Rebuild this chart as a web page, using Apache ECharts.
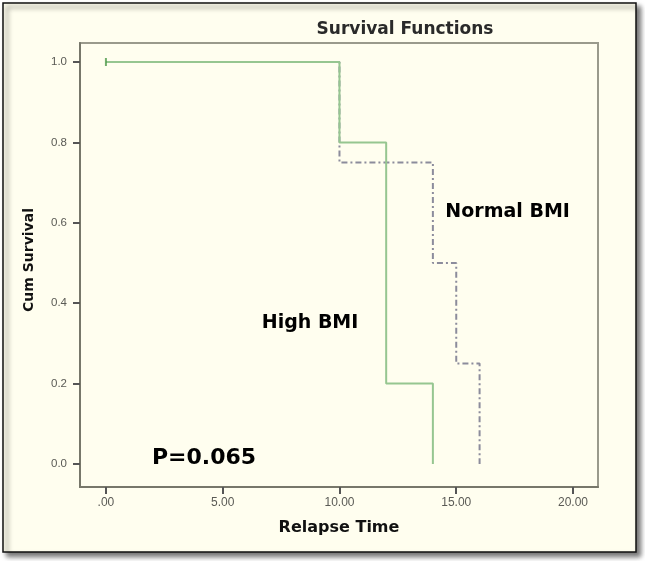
<!DOCTYPE html>
<html>
<head>
<meta charset="utf-8">
<script src="https://cdn.jsdelivr.net/npm/echarts@6/dist/echarts.min.js"></script>
<style>
html,body{margin:0;padding:0;background:#ffffff;}
#chart{width:645px;height:561px;}
</style>
</head>
<body>
<div id="chart"></div>
<script>
// Data
const highBMI = [[0, 1.0], [10, 0.8], [12, 0.2], [14, 0.0]];
const normalBMI = [[0, 1.0], [10, 0.75], [14, 0.5], [15, 0.25], [16, 0.0]];
const censored = [[0, 1.0]];
const xTicks = [0, 5, 10, 15, 20];
const yTicks = [0, 0.2, 0.4, 0.6, 0.8, 1.0];
const annotationTexts = ['Normal BMI', 'High BMI', 'P=0.065'];
const annotationX = [17.2, 8.74, 4.2];
const annotationY = [0.627, 0.351, 0.015];
const annotationSize = [19, 19, 22];

const chart = echarts.init(document.getElementById('chart'), null, { renderer: 'canvas' });

const labelColor = '#5a5a55';
const axisColor = '#77776a';

const frame = {
  type: 'rect',
  z: -10,
  shape: { x: 3, y: 3, width: 633, height: 549 },
  style: {
    fill: '#fffeef', stroke: '#111', lineWidth: 1.5,
    shadowBlur: 5, shadowOffsetX: 4, shadowOffsetY: 4, shadowColor: 'rgba(0,0,0,0.55)'
  }
};

chart.setOption({
  backgroundColor: 'transparent',
  animation: false,
  graphic: [frame],
  title: {
    text: 'Survival Functions',
    left: 400, top: 16, textAlign: 'center',
    textStyle: { fontFamily: 'DejaVu Sans', fontSize: 17, fontWeight: 'bold', color: '#2a2a2a' }
  },
  grid: {
    left: 80, top: 43, right: 47, bottom: 74,
    show: true, backgroundColor: 'transparent', borderColor: '#9a9a8c', borderWidth: 2
  },
  xAxis: {
    type: 'value',
    min: -1.11, max: 21.07,
    name: 'Relapse Time',
    nameLocation: 'middle', nameGap: 41,
    nameTextStyle: { fontFamily: 'DejaVu Sans', fontWeight: 'bold', fontSize: 16, color: '#111', verticalAlign: 'middle' },
    axisLine: { onZero: false, lineStyle: { color: axisColor, width: 2 } },
    axisTick: { show: true, customValues: xTicks, length: 7, lineStyle: { color: '#555', width: 2 } },
    axisLabel: {
      customValues: xTicks, margin: 10,
      fontFamily: 'Liberation Sans, Arial', fontSize: 12, color: labelColor,
      formatter: v => v === 0 ? '.00' : v.toFixed(2)
    },
    splitLine: { show: false }
  },
  yAxis: {
    type: 'value',
    min: -0.0572, max: 1.0473,
    name: 'Cum Survival',
    nameLocation: 'middle', nameGap: 44,
    nameTextStyle: { fontFamily: 'DejaVu Sans', fontWeight: 'bold', fontSize: 14, color: '#111', padding: [0, 0, 0, 10] },
    axisLine: { onZero: false, lineStyle: { color: axisColor, width: 2 } },
    axisTick: { show: true, customValues: yTicks, length: 7, lineStyle: { color: '#555', width: 2 } },
    axisLabel: {
      customValues: yTicks, margin: 13,
      fontFamily: 'Liberation Sans, Arial', fontSize: 11.5, color: labelColor,
      formatter: v => v.toFixed(1)
    },
    splitLine: { show: false }
  },
  series: [
    {
      name: 'Normal BMI', type: 'line', step: 'end', data: normalBMI,
      showSymbol: false, z: 2,
      lineStyle: { color: '#8c8c9c', width: 2, type: [6, 3, 2, 3] }
    },
    {
      name: 'High BMI', type: 'line', step: 'end', data: highBMI,
      showSymbol: false, z: 3,
      lineStyle: { color: '#96c690', width: 2 }
    },
    {
      name: 'Censored', type: 'scatter', data: censored, z: 4,
      symbol: 'rect', symbolSize: [2, 8],
      itemStyle: { color: '#4e9a4a' }
    }
  ]
});

// Text annotations placed at data coordinates through the grid's scales
const texts = annotationTexts.map((t, i) => {
  const p = chart.convertToPixel({ gridIndex: 0 }, [annotationX[i], annotationY[i]]);
  return {
    type: 'text', z: 20, x: p[0], y: p[1],
    style: {
      text: t, fill: '#000', align: 'center', verticalAlign: 'middle',
      font: 'bold ' + annotationSize[i] + 'px "DejaVu Sans"'
    }
  };
});
chart.setOption({ graphic: [frame].concat(texts) }, { replaceMerge: ['graphic'] });
</script>
</body>
</html>
